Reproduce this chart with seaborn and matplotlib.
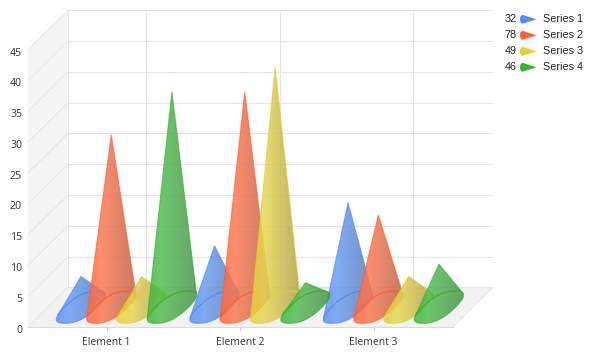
import numpy as np
import pandas as pd
import seaborn as sns
import matplotlib.pyplot as plt
from matplotlib.colors import to_rgb
from matplotlib.patches import Polygon
from matplotlib.transforms import ScaledTranslation

elements = ["Element 1", "Element 2", "Element 3"]
series_names = ["Series 1", "Series 2", "Series 3", "Series 4"]
series_1 = [5, 10, 17]
series_2 = [28, 35, 15]
series_3 = [5, 39, 5]
series_4 = [35, 4, 7]
y_ticks = [0, 5, 10, 15, 20, 25, 30, 35, 40, 45]
colors = ["#4a86f0", "#ff5a2a", "#e2ce2a", "#2cb02c"]

all_series = [series_1, series_2, series_3, series_4]
df = pd.DataFrame({
    "element": elements * 4,
    "series": [name for name in series_names for _ in elements],
    "value": series_1 + series_2 + series_3 + series_4,
})

W, H = 591, 354
sns.set_theme(style="white")
plt.rcParams["font.family"] = ["Noto Sans", "DejaVu Sans"]

fig = plt.figure(figsize=(W / 100, H / 100), dpi=100)
ax = fig.add_axes([28 / W, (H - 327) / H, 465 / W, 316.7 / H])

# the bars only give the dodged category positions, cones get drawn on top
sns.barplot(data=df, x="element", y="value", hue="series", hue_order=series_names,
            width=0.908, gap=0, dodge=True, legend=False, ax=ax)

x_min, x_front, x_max = -0.588, 2.596, 2.895
y_max = 51.42
depth_x = x_max - x_front
depth_y = y_max - 45
wall = "#e4e4e4"

# walls and floor
ax.add_patch(Polygon([(x_min, 0), (x_min, 45), (x_min + depth_x, y_max), (x_min + depth_x, depth_y)],
                     fc="#f5f5f5", ec="none", zorder=0.5))
ax.add_patch(Polygon([(x_min, 0), (x_front, 0), (x_max, depth_y), (x_min + depth_x, depth_y)],
                     fc="#f2f2f2", ec="none", zorder=0.5))
for v in y_ticks:
    ax.plot([x_min + depth_x, x_max], [v + depth_y] * 2, color=wall, lw=0.75, zorder=1)
    ax.plot([x_min, x_min + depth_x], [v, v + depth_y], color=wall, lw=0.6, zorder=1)
for i in [0, 1, 2]:
    ax.plot([i + depth_x] * 2, [depth_y, y_max], color=wall, lw=0.75, zorder=1)
    ax.plot([i, i + depth_x], [0, depth_y], color=wall, lw=0.6, zorder=1)
ax.plot([x_max, x_max], [depth_y, y_max], color=wall, lw=0.75, zorder=1)
ax.plot([x_min + depth_x] * 2, [depth_y, y_max], color=wall, lw=0.75, zorder=1)
ax.plot([x_front, x_max], [0, depth_y], color=wall, lw=0.6, zorder=1)
ax.plot([x_min, x_front], [0, 0], color="#dcdcdc", lw=0.8, zorder=1, clip_on=False)


def cone_outline(cx, cy, u, v, apex, blunt=0.8):
    t = np.linspace(0, 2 * np.pi, 240, endpoint=False)
    c = np.sign(np.cos(t)) * np.abs(np.cos(t)) ** blunt
    s = np.sign(np.sin(t)) * np.abs(np.sin(t)) ** blunt
    pts = np.column_stack([cx + u[0] * c + v[0] * s, cy + u[1] * c + v[1] * s])
    d = np.array([cx, cy]) - apex
    rel = pts - apex
    ang = np.arctan2(d[0] * rel[:, 1] - d[1] * rel[:, 0], rel @ d)
    i1, i2 = int(ang.argmax()), int(ang.argmin())
    arc_a = np.roll(pts, -i1, axis=0)[:(i2 - i1) % 240 + 1]
    arc_b = np.roll(pts, -i2, axis=0)[:(i1 - i2) % 240 + 1]
    if (arc_a - apex).dot(d).mean() > (arc_b - apex).dot(d).mean():
        return arc_a, arc_b
    return arc_b, arc_a


def shade(color, alpha=0.84):
    base = np.array(to_rgb(color))
    light = base * 0.82 + 0.18
    dark = base * 0.55 + np.array([0.42, 0.42, 0.42]) * 0.45
    t = np.linspace(0, 1, 128)
    rgb = np.column_stack([np.interp(t, [0, 0.28, 1], [base[k] * 0.92 + 0.08, light[k], dark[k]])
                           for k in range(3)])
    return np.dstack([rgb[None, :, :], np.full((1, 128, 1), alpha)])


radius = 0.124
base_dx, base_dy = 0.12, 2.62
z = 2
for s, container in enumerate(ax.containers):
    for bar in container:
        cx = bar.get_x() + bar.get_width() / 2 + depth_x / 2
        cy = depth_y / 2
        apex = np.array([cx, cy + bar.get_height()])
        outer, inner = cone_outline(cx, cy, (radius, 0), (base_dx, base_dy), apex)
        outline = np.vstack([apex, outer])
        left, right = outline[:, 0].min(), outline[:, 0].max()
        poly = Polygon(outline, closed=True, fc="none", ec=colors[s], lw=0.8, alpha=0.6, zorder=z + 0.2)
        ax.add_patch(poly)
        im = ax.imshow(shade(colors[s]), extent=(left, right, 0, apex[1] + 1), aspect="auto",
                       interpolation="bilinear", zorder=z)
        im.set_clip_path(Polygon(outline, closed=True, transform=ax.transData))
        ax.plot(inner[:, 0], inner[:, 1], color=colors[s], lw=0.8, alpha=0.8, zorder=z + 0.3)
        bar.set_visible(False)
        z += 1

ax.set_xlim(x_min, x_max)
ax.set_ylim(0, y_max)
ax.set_xticks([0, 1, 2], elements)
ax.set_yticks(y_ticks)
ax.set_xlabel("")
ax.set_ylabel("")
ax.tick_params(axis="x", length=3, width=0.8, color="#d0d0d0", pad=4, labelsize=7.4, labelcolor="#404040", bottom=True)
ax.tick_params(axis="y", length=0, pad=4.3, labelsize=7.6, labelcolor="#404040")
nudge = ScaledTranslation(0, -1.2 / 72, fig.dpi_scale_trans)
for label in ax.get_yticklabels():
    label.set_transform(label.get_transform() + nudge)
sns.despine(ax=ax, left=True, bottom=True, top=True, right=True)
ax.patch.set_alpha(0)


def px(x, y):
    return x / W, 1 - y / H


# legend with the series totals
for s, name in enumerate(series_names):
    row = 19.3 + 16 * s
    fx, fy = px(516.7, row)
    fig.text(fx, fy, str(sum(all_series[s])), ha="right", va="center", fontsize=7.8,
             family="Liberation Sans", color="#222222")
    fx, fy = px(543, row)
    fig.text(fx, fy, name, ha="left", va="center", fontsize=7.8,
             family="Liberation Sans", color="#222222")
    outer, _ = cone_outline(522.5, row, (2.5, 0), (0, 4.4), np.array([536.5, row]), blunt=1)
    marker = np.vstack([[536.5, row], outer])
    fig.add_artist(Polygon(np.column_stack(px(marker[:, 0], marker[:, 1])), closed=True,
                           fc=colors[s], ec="none", alpha=0.95, transform=fig.transFigure))

fig.savefig("out.png", dpi=100)
